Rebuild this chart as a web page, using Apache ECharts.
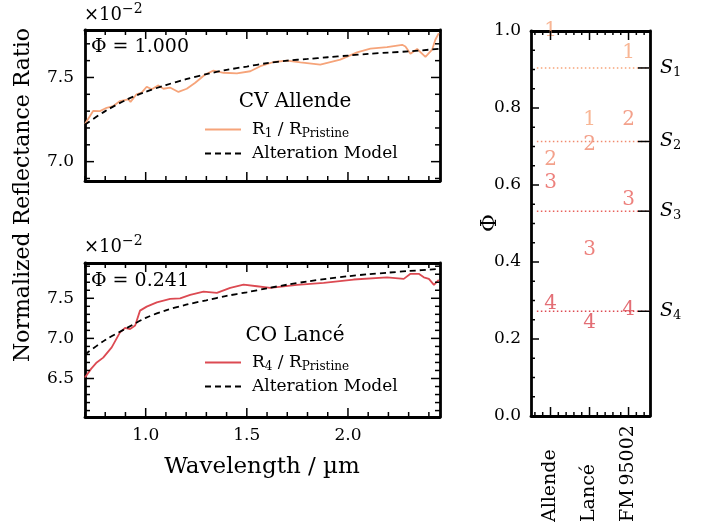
<!DOCTYPE html>
<html>
<head>
<meta charset="utf-8">
<script src="https://cdn.jsdelivr.net/npm/echarts@6/dist/echarts.min.js"></script>
<style>
  html, body { margin: 0; padding: 0; background: #fff; }
  #chart { width: 703px; height: 526px; }
</style>
</head>
<body>
<div id="chart"></div>
<script>
// CV Allende, R1 / R_Pristine (x 1e-2)
const wavelength1 = [0.700, 0.741, 0.774, 0.807, 0.840, 0.873, 0.914, 0.925, 0.955, 0.980,
  1.005, 1.030, 1.063, 1.088, 1.120, 1.162, 1.203, 1.245, 1.294, 1.335,
  1.385, 1.451, 1.517, 1.567, 1.633, 1.699, 1.765, 1.863, 1.962, 2.045,
  2.111, 2.193, 2.268, 2.284, 2.309, 2.342, 2.383, 2.416, 2.432, 2.449];
const ratio1 = [7.224, 7.302, 7.300, 7.320, 7.330, 7.360, 7.370, 7.355, 7.400, 7.410,
  7.445, 7.430, 7.453, 7.433, 7.440, 7.414, 7.433, 7.469, 7.518, 7.541,
  7.528, 7.524, 7.537, 7.567, 7.592, 7.600, 7.590, 7.576, 7.606, 7.649,
  7.671, 7.680, 7.694, 7.684, 7.641, 7.669, 7.622, 7.665, 7.724, 7.763];

// CO Lancé, R4 / R_Pristine (x 1e-2)
const wavelength4 = [0.700, 0.730, 0.758, 0.790, 0.832, 0.873, 0.898, 0.923, 0.948, 0.972,
  1.005, 1.055, 1.121, 1.170, 1.220, 1.286, 1.352, 1.418, 1.484, 1.550,
  1.616, 1.748, 1.880, 2.028, 2.193, 2.276, 2.309, 2.350, 2.375, 2.400,
  2.425, 2.449];
const ratio4 = [6.512, 6.620, 6.700, 6.760, 6.888, 7.075, 7.130, 7.117, 7.160, 7.346,
  7.396, 7.450, 7.492, 7.500, 7.542, 7.584, 7.567, 7.630, 7.670, 7.650,
  7.630, 7.667, 7.692, 7.734, 7.762, 7.742, 7.805, 7.805, 7.762, 7.742,
  7.667, 7.730];

// alteration model
const modelWavelength = [0.70, 0.80, 0.90, 1.00, 1.10, 1.20, 1.30, 1.40, 1.50, 1.60,
  1.70, 1.80, 1.90, 2.00, 2.10, 2.20, 2.30, 2.45];
const model1 = [7.220, 7.300, 7.365, 7.415, 7.455, 7.490, 7.520, 7.545, 7.565, 7.585,
  7.600, 7.610, 7.620, 7.630, 7.640, 7.648, 7.655, 7.670];
const model4 = [6.800, 6.980, 7.120, 7.255, 7.350, 7.420, 7.475, 7.530, 7.575, 7.625,
  7.670, 7.710, 7.745, 7.775, 7.800, 7.820, 7.840, 7.865];

// right panel
const samples = ['Allende', 'Lancé', 'FM\u200995002'];
const stepLabels = ['1', '2', '3', '4'];
const phiAllende = [1.000, 0.665, 0.605, 0.292];
const phiLance = [0.770, 0.704, 0.431, 0.241];
const phiFM = [0.943, 0.770, 0.561, 0.275];
const sLevels = [0.904, 0.713, 0.532, 0.272];
const sLineFrom = -0.35;
const sLineTo = 2.55;

// ticks
const xMajor = [1.0, 1.5, 2.0];
const xMinor = [0.7, 0.8, 0.9, 1.1, 1.2, 1.3, 1.4, 1.6, 1.7, 1.8, 1.9, 2.1, 2.2, 2.3, 2.4];
const yTopMajor = [7.0, 7.5];
const yTopMinor = [6.9, 7.1, 7.2, 7.3, 7.4, 7.6, 7.7];
const yBotMajor = [6.5, 7.0, 7.5];
const yBotMinor = [6.1, 6.2, 6.3, 6.4, 6.6, 6.7, 6.8, 6.9, 7.1, 7.2, 7.3, 7.4, 7.6, 7.7, 7.8, 7.9];
const phiMajor = [0.0, 0.2, 0.4, 0.6, 0.8, 1.0];
const phiMinor = [0.05, 0.1, 0.15, 0.25, 0.3, 0.35, 0.45, 0.5, 0.55, 0.65, 0.7, 0.75, 0.85, 0.9, 0.95];
const catMajor = [0, 1, 2];
const catMinor = [-0.4, -0.2, 0.2, 0.4, 0.6, 0.8, 1.2, 1.4, 1.6, 1.8, 2.2, 2.4];

const stepColors = ['#f6a47a', '#f08a6e', '#e8625c', '#dc4a52'];
const FONT = '"DejaVu Serif", serif';
const name1 = 'R1 / RPristine';
const name4 = 'R4 / RPristine';
const modelName = 'Alteration Model';
const legendText = {
  [name1]: '{n|R}{s|1}{n| / R}{s|Pristine}',
  [name4]: '{n|R}{s|4}{n| / R}{s|Pristine}',
};

const X_RANGE = [0.7, 2.455];
const TOP_Y = [6.885, 7.782];
const BOT_Y = [6.02, 7.94];
const CAT_X = [-0.5, 2.55];
const PHI_Y = [0, 1];

const grids = [
  { left: 85, top: 30, width: 355, height: 151 },
  { left: 85, top: 263, width: 355, height: 154 },
  { left: 531, top: 31, width: 119, height: 385 },
];

// axis line + labels; tick marks are added afterwards as graphic lines
function labelAxis(gridIndex, position, range, ticks, label) {
  return {
    type: 'value', gridIndex, position, min: range[0], max: range[1],
    axisLine: { show: true, onZero: false, lineStyle: { color: '#000', width: 2.8 } },
    axisTick: { show: false },
    axisLabel: label
      ? Object.assign({ show: true, customValues: ticks, color: '#000', fontFamily: FONT, fontSize: 17 }, label)
      : { show: false },
    splitLine: { show: false },
  };
}

const fix1 = (v) => v.toFixed(1);

const xAxes = [
  labelAxis(0, 'bottom', X_RANGE, xMajor),
  labelAxis(0, 'top', X_RANGE, xMajor),
  labelAxis(1, 'bottom', X_RANGE, xMajor, { formatter: fix1, margin: 10 }),
  labelAxis(1, 'top', X_RANGE, xMajor),
  labelAxis(2, 'bottom', CAT_X, catMajor, {
    formatter: (v) => samples[Math.round(v)], rotate: 90, align: 'left', verticalAlign: 'middle',
    margin: 106, fontSize: 19,
  }),
  labelAxis(2, 'top', CAT_X, catMajor),
];
const yAxes = [
  labelAxis(0, 'left', TOP_Y, yTopMajor, { formatter: fix1, margin: 11 }),
  labelAxis(0, 'right', TOP_Y, yTopMajor),
  labelAxis(1, 'left', BOT_Y, yBotMajor, { formatter: fix1, margin: 11 }),
  labelAxis(1, 'right', BOT_Y, yBotMajor),
  labelAxis(2, 'left', PHI_Y, phiMajor, { formatter: fix1, margin: 10 }),
  labelAxis(2, 'right', PHI_Y, sLevels, {
    formatter: (v) => {
      const i = sLevels.findIndex((s) => Math.abs(s - v) < 1e-6);
      return `{s|S}{b|${i + 1}}`;
    },
    margin: 10,
    rich: {
      s: { fontFamily: FONT, fontSize: 19, fontStyle: 'italic', color: '#000', lineHeight: 22 },
      b: { fontFamily: FONT, fontSize: 13, color: '#000', lineHeight: 12, verticalAlign: 'bottom' },
    },
  }),
];

const pairs = (xs, ys) => xs.map((x, i) => [x, ys[i]]);
const dashStyle = { color: '#000', width: 1.8, type: [6, 4] };

const series = [
  {
    name: name1, type: 'line', xAxisIndex: 0, yAxisIndex: 0, data: pairs(wavelength1, ratio1),
    symbol: 'none', lineStyle: { color: stepColors[0], width: 1.8 }, itemStyle: { color: stepColors[0] }, z: 2,
  },
  {
    name: modelName, type: 'line', xAxisIndex: 0, yAxisIndex: 0, data: pairs(modelWavelength, model1),
    symbol: 'none', smooth: 0.3, lineStyle: dashStyle, itemStyle: { color: '#000' }, z: 3,
  },
  {
    name: name4, type: 'line', xAxisIndex: 2, yAxisIndex: 2, data: pairs(wavelength4, ratio4),
    symbol: 'none', lineStyle: { color: stepColors[3], width: 1.8 }, itemStyle: { color: stepColors[3] }, z: 2,
  },
  {
    name: modelName, type: 'line', xAxisIndex: 2, yAxisIndex: 2, data: pairs(modelWavelength, model4),
    symbol: 'none', smooth: 0.3, lineStyle: dashStyle, itemStyle: { color: '#000' }, z: 3,
  },
];

sLevels.forEach((s, i) => {
  series.push({
    type: 'line', xAxisIndex: 4, yAxisIndex: 4, data: [[sLineFrom, s], [sLineTo, s]],
    symbol: 'none', silent: true, lineStyle: { color: stepColors[i], width: 1.6, type: [1.5, 2.5] }, z: 2,
  });
});

stepLabels.forEach((lab, i) => {
  series.push({
    type: 'scatter', xAxisIndex: 4, yAxisIndex: 4,
    data: [[0, phiAllende[i]], [1, phiLance[i]], [2, phiFM[i]]],
    symbolSize: 0, silent: true,
    label: { show: true, position: 'inside', formatter: lab, color: stepColors[i], fontFamily: FONT, fontSize: 20 },
    z: 4,
  });
});

const legendBase = {
  orient: 'vertical', left: 199, itemWidth: 36, itemHeight: 12, itemGap: 5, selectedMode: false,
  itemStyle: { opacity: 0 },
  formatter: (name) => legendText[name] || `{n|${name}}`,
  textStyle: {
    fontFamily: FONT, fontSize: 17, color: '#000', padding: [0, 0, 0, 6],
    rich: {
      n: { fontFamily: FONT, fontSize: 17, color: '#000', lineHeight: 21 },
      s: { fontFamily: FONT, fontSize: 12, color: '#000', lineHeight: 11, verticalAlign: 'bottom' },
    },
  },
};

const text = (x, y, str, size, opts) => Object.assign({
  type: 'text', x, y, silent: true,
  style: Object.assign({ text: str, font: `${size}px ${FONT}`, fill: '#000', align: 'center', verticalAlign: 'middle' }, (opts || {}).style),
}, opts && opts.rotation ? { rotation: opts.rotation } : {});

const powRich = {
  a: { fontFamily: FONT, fontSize: 18, color: '#000', lineHeight: 22, verticalAlign: 'bottom' },
  e: { fontFamily: FONT, fontSize: 14, color: '#000', lineHeight: 14, verticalAlign: 'top' },
};

const textGraphics = [
  text(23, 195, 'Normalized Reflectance Ratio', 22, { rotation: Math.PI / 2 }),
  text(262, 467, 'Wavelength / µm', 23),
  text(490, 223, 'Φ', 22, { rotation: Math.PI / 2 }),
  text(84, 13, '{a|×10}{e|−2}', 18, { style: { align: 'left', rich: powRich } }),
  text(84, 245, '{a|×10}{e|−2}', 18, { style: { align: 'left', rich: powRich } }),
  text(91, 47, 'Φ = 1.000', 19, { style: { align: 'left' } }),
  text(91, 281, 'Φ = 0.241', 19, { style: { align: 'left' } }),
  text(295, 102, 'CV Allende', 20),
  text(295, 336, 'CO Lancé', 20),
];

const option = {
  animation: false,
  backgroundColor: '#fff',
  grid: grids,
  xAxis: xAxes,
  yAxis: yAxes,
  legend: [
    Object.assign({}, legendBase, { top: 116, data: [name1, modelName] }),
    Object.assign({}, legendBase, { top: 349, data: [name4, modelName] }),
  ],
  graphic: textGraphics,
  series,
};

const chart = echarts.init(document.getElementById('chart'));
chart.setOption(option);

// inward tick marks, placed through each grid's own axis scales
// sides: 'both', 'low' (bottom/left only) or 'high' (top/right only)
const tickGraphics = [];
function addTicks(gi, axisIndex, xr, yr, values, dim, len, sides) {
  const g = grids[gi];
  const finder = { xAxisIndex: axisIndex, yAxisIndex: axisIndex };
  values.forEach((v) => {
    const segs = [];
    if (dim === 0) {
      const px = chart.convertToPixel(finder, [v, yr[0]])[0];
      const bottom = g.top + g.height;
      if (sides !== 'high') segs.push([px, bottom, px, bottom - len]);
      if (sides !== 'low') segs.push([px, g.top, px, g.top + len]);
    } else {
      const py = chart.convertToPixel(finder, [xr[0], v])[1];
      const right = g.left + g.width;
      if (sides !== 'high') segs.push([g.left, py, g.left + len, py]);
      if (sides !== 'low') segs.push([right, py, right - len, py]);
    }
    segs.forEach(([x1, y1, x2, y2]) => tickGraphics.push({
      type: 'line', silent: true, z: 10,
      shape: { x1, y1, x2, y2 },
      style: { stroke: '#000', lineWidth: 1.5 },
    }));
  });
}

addTicks(0, 0, X_RANGE, TOP_Y, xMajor, 0, 9, 'both');
addTicks(0, 0, X_RANGE, TOP_Y, xMinor, 0, 5, 'both');
addTicks(0, 0, X_RANGE, TOP_Y, yTopMajor, 1, 9, 'both');
addTicks(0, 0, X_RANGE, TOP_Y, yTopMinor, 1, 5, 'both');
addTicks(1, 2, X_RANGE, BOT_Y, xMajor, 0, 9, 'both');
addTicks(1, 2, X_RANGE, BOT_Y, xMinor, 0, 5, 'both');
addTicks(1, 2, X_RANGE, BOT_Y, yBotMajor, 1, 9, 'both');
addTicks(1, 2, X_RANGE, BOT_Y, yBotMinor, 1, 5, 'both');
addTicks(2, 4, CAT_X, PHI_Y, catMajor, 0, 9, 'both');
addTicks(2, 4, CAT_X, PHI_Y, catMinor, 0, 4, 'both');
addTicks(2, 4, CAT_X, PHI_Y, phiMajor, 1, 8, 'low');
addTicks(2, 4, CAT_X, PHI_Y, phiMinor, 1, 4, 'low');
addTicks(2, 4, CAT_X, PHI_Y, sLevels, 1, 12, 'high');

chart.setOption({ graphic: [...textGraphics, ...tickGraphics] });
</script>
</body>
</html>
